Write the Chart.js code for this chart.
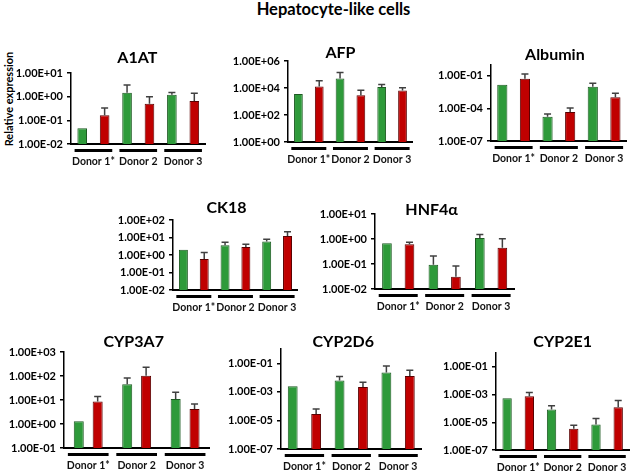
<!DOCTYPE html>
<html><head><meta charset="utf-8">
<script src="https://cdn.jsdelivr.net/npm/chart.js@4.4.0/dist/chart.umd.min.js"></script>
<style>
body{margin:0;background:#fff;width:635px;height:471px;position:relative;overflow:hidden;font-family:Lato,"Open Sans",sans-serif;}
canvas{position:absolute;}
#title{position:absolute;left:16px;width:635px;top:0px;text-align:center;font:bold 16.5px Lato,sans-serif;line-height:18px;color:#000;}
#ylab{position:absolute;left:8px;top:99px;transform:translate(-50%,-50%) rotate(-90deg);font:bold 11px Lato,sans-serif;white-space:nowrap;color:#000;}
</style></head><body>
<div id="title">Hepatocyte-like cells</div>
<div id="ylab">Relative expression</div>
<script>
const donors = ["Donor 1*", "Donor 2", "Donor 3"];

const a1atTicks = ["1.00E-02", "1.00E-01", "1.00E+00", "1.00E+01"];
const a1atGreen = [0.046, 1.45, 1.2];
const a1atGreenErr = [null, 1.65, 0.3];
const a1atRed = [0.164, 0.5, 0.66];
const a1atRedErr = [0.17, 0.5, 0.74];

const afpTicks = ["1.00E+00", "1.00E+02", "1.00E+04", "1.00E+06"];
const afpGreen = [3550, 50000, 11700];
const afpGreenErr = [null, 90000, 6300];
const afpRed = [13000, 2900, 6600];
const afpRedErr = [21000, 3800, 3700];

const albTicks = ["1.00E-07", "1.00E-04", "1.00E-01"];
const albGreen = [0.0148, 1.7e-5, 0.0098];
const albGreenErr = [null, 1.3e-5, 0.011];
const albRed = [0.054, 4.6e-5, 0.00107];
const albRedErr = [0.096, 6.4e-5, 0.0014];

const ck18Ticks = ["1.00E-02", "1.00E-01", "1.00E+00", "1.00E+01", "1.00E+02"];
const ck18Green = [2.0, 3.6, 6.0];
const ck18GreenErr = [null, 1.7, 1.9];
const ck18Red = [0.59, 2.9, 12.2];
const ck18RedErr = [0.8, 1.2, 8.8];

const hnfTicks = ["1.00E-02", "1.00E-01", "1.00E+00", "1.00E+01"];
const hnfGreen = [0.67, 0.094, 1.1];
const hnfGreenErr = [null, 0.116, 0.4];
const hnfRed = [0.61, 0.031, 0.45];
const hnfRedErr = [0.13, 0.052, 0.58];

const cyp3a7Ticks = ["1.00E-01", "1.00E+00", "1.00E+01", "1.00E+02", "1.00E+03"];
const cyp3a7Green = [1.29, 45, 11];
const cyp3a7GreenErr = [null, 38, 10];
const cyp3a7Red = [8.7, 103, 4.2];
const cyp3a7RedErr = [5.3, 127, 2.6];

const cyp2d6Ticks = ["1.00E-07", "1.00E-05", "1.00E-03", "1.00E-01"];
const cyp2d6Green = [0.0025, 0.0062, 0.023];
const cyp2d6GreenErr = [null, 0.0055, 0.042];
const cyp2d6Red = [2.8e-5, 0.0022, 0.013];
const cyp2d6RedErr = [3.4e-5, 0.0025, 0.019];

const cyp2e1Ticks = ["1.00E-07", "1.00E-05", "1.00E-03", "1.00E-01"];
const cyp2e1Green = [5.5e-4, 8.5e-5, 7e-6];
const cyp2e1GreenErr = [null, 7e-5, 1.2e-5];
const cyp2e1Red = [7.6e-4, 3.4e-6, 1.23e-4];
const cyp2e1RedErr = [6.4e-4, 2.6e-6, 2.57e-4];

// panel layout (page pixels of the plot area) and axis ranges
const panels = [
  {name:"A1AT", ticks:a1atTicks, g:a1atGreen, ge:a1atGreenErr, r:a1atRed, re:a1atRedErr, min:1e-2, max:1e1, L:71, R:210, T:73, B:144, cp:1, bp:0.43, tdx:-1, tdy:15},
  {name:"AFP", ticks:afpTicks, g:afpGreen, ge:afpGreenErr, r:afpRed, re:afpRedErr, min:1, max:1e6, L:288, R:419, T:61, B:142, cp:1, bp:0.42, tdx:-10, tdy:8},
  {name:"Albumin", ticks:albTicks, g:albGreen, ge:albGreenErr, r:albRed, re:albRedErr, min:1e-7, max:1, L:491, R:631, T:65, B:141, cp:1, bp:0.45, tdx:-4, tdy:10},
  {name:"CK18", ticks:ck18Ticks, g:ck18Green, ge:ck18GreenErr, r:ck18Red, re:ck18RedErr, min:1e-2, max:1e2, L:173, R:304, T:220, B:290, cp:1, bp:0.43, tdx:-9, tdy:12},
  {name:"HNF4\u03b1", ticks:hnfTicks, g:hnfGreen, ge:hnfGreenErr, r:hnfRed, re:hnfRedErr, min:1e-2, max:1e1, L:375, R:518, T:214, B:289, cp:0.97, bp:0.43, tdx:-13, tdy:4},
  {name:"CYP3A7", ticks:cyp3a7Ticks, g:cyp3a7Green, ge:cyp3a7GreenErr, r:cyp3a7Red, re:cyp3a7RedErr, min:1e-1, max:1e3, L:64, R:212, T:352, B:448, cp:0.78, bp:0.53, tdx:-3, tdy:10},
  {name:"CYP2D6", ticks:cyp2d6Ticks, g:cyp2d6Green, ge:cyp2d6GreenErr, r:cyp2d6Red, re:cyp2d6RedErr, min:1e-7, max:1, L:281, R:425, T:349, B:449, cp:1, bp:0.42, tdx:-8, tdy:7},
  {name:"CYP2E1", ticks:cyp2e1Ticks, g:cyp2e1Green, ge:cyp2e1GreenErr, r:cyp2e1Red, re:cyp2e1RedErr, min:1e-7, max:1, L:496, R:634, T:353, B:450, cp:1, bp:0.42, tdx:0, tdy:11}
];

const YW = 70, TOPPAD = 30, XH = 28, RPAD = 4;
const FONT = "Lato, 'Open Sans', sans-serif";

const panelTitle = {
  id: 'panelTitle',
  afterDraw(chart, args, opts) {
    const {ctx, chartArea} = chart;
    ctx.save();
    ctx.font = "bold 16px " + FONT;
    ctx.fillStyle = '#000';
    ctx.textAlign = 'center';
    ctx.textBaseline = 'middle';
    ctx.fillText(opts.text, (chartArea.left + chartArea.right) / 2 + opts.dx, chartArea.top - opts.dy);
    ctx.restore();
  }
};

const groupLines = {
  id: 'groupLines',
  afterDraw(chart) {
    const {ctx, chartArea} = chart;
    const xs = chart.scales.x;
    const n = chart.data.labels.length;
    const w = (xs.right - xs.left) / n;
    ctx.save();
    ctx.fillStyle = '#000';
    for (let i = 0; i < n; i++) {
      const c = xs.getPixelForValue(i);
      ctx.fillRect(c - 0.42 * w, chartArea.bottom + 5, 0.84 * w, 3);
    }
    ctx.restore();
  }
};

const errorBars = {
  id: 'errorBars',
  afterDatasetsDraw(chart) {
    const {ctx} = chart;
    const ys = chart.scales.y;
    ctx.save();
    ctx.strokeStyle = '#404040';
    ctx.lineWidth = 1.5;
    chart.data.datasets.forEach((ds, d) => {
      const meta = chart.getDatasetMeta(d);
      ds.errors.forEach((e, i) => {
        if (e == null) return;
        const bar = meta.data[i];
        const yTop = ys.getPixelForValue(ds.data[i] + e);
        ctx.beginPath();
        ctx.moveTo(bar.x, bar.y);
        ctx.lineTo(bar.x, yTop);
        ctx.moveTo(bar.x - 3.5, yTop);
        ctx.lineTo(bar.x + 3.5, yTop);
        ctx.stroke();
      });
    });
    ctx.restore();
  }
};

panels.forEach(p => {
  const cv = document.createElement('canvas');
  const w = p.R - p.L + YW + RPAD;
  const h = p.B - p.T + TOPPAD + XH;
  cv.width = w; cv.height = h;
  cv.style.width = w + 'px'; cv.style.height = h + 'px';
  cv.style.left = (p.L - YW) + 'px';
  cv.style.top = (p.T - TOPPAD) + 'px';
  document.body.appendChild(cv);
  const tickVals = p.ticks.map(Number);
  new Chart(cv, {
    type: 'bar',
    data: {
      labels: donors,
      datasets: [
        {data: p.g, errors: p.ge, backgroundColor: '#2e9a3a', borderColor: '#1d5a22', borderWidth: 1,
         categoryPercentage: p.cp, barPercentage: p.bp},
        {data: p.r, errors: p.re, backgroundColor: '#c00000', borderColor: '#5a0000', borderWidth: 1,
         categoryPercentage: p.cp, barPercentage: p.bp}
      ]
    },
    options: {
      responsive: false,
      animation: false,
      devicePixelRatio: 1,
      layout: {padding: {top: TOPPAD, right: RPAD, left: 0, bottom: 0}},
      plugins: {
        legend: {display: false},
        tooltip: {enabled: false},
        title: {display: false},
        panelTitle: {text: p.name, dx: p.tdx, dy: p.tdy}
      },
      scales: {
        x: {
          type: 'category',
          offset: true,
          grid: {display: true, drawOnChartArea: false, drawTicks: false, color: 'rgba(0,0,0,0)'},
          border: {display: true, color: '#000', width: 2},
          ticks: {padding: 11, color: '#111', font: {family: FONT, size: 10.5, weight: 'bold'}, maxRotation: 0, autoSkip: false},
          afterFit: s => { s.height = XH; }
        },
        y: {
          type: 'logarithmic',
          min: p.min,
          max: p.max,
          afterBuildTicks: s => { s.ticks = tickVals.map(v => ({value: v})); },
          grid: {display: true, drawOnChartArea: false, drawTicks: true, tickLength: 4, color: '#000', lineWidth: 1.5},
          border: {display: true, color: '#000', width: 1.5},
          ticks: {padding: 4, color: '#000', font: {family: FONT, size: 11, weight: 'bold'},
                  callback: (v, i) => p.ticks[i]},
          afterFit: s => { s.width = YW; }
        }
      }
    },
    plugins: [panelTitle, groupLines, errorBars]
  });
});
</script>
</body></html>
